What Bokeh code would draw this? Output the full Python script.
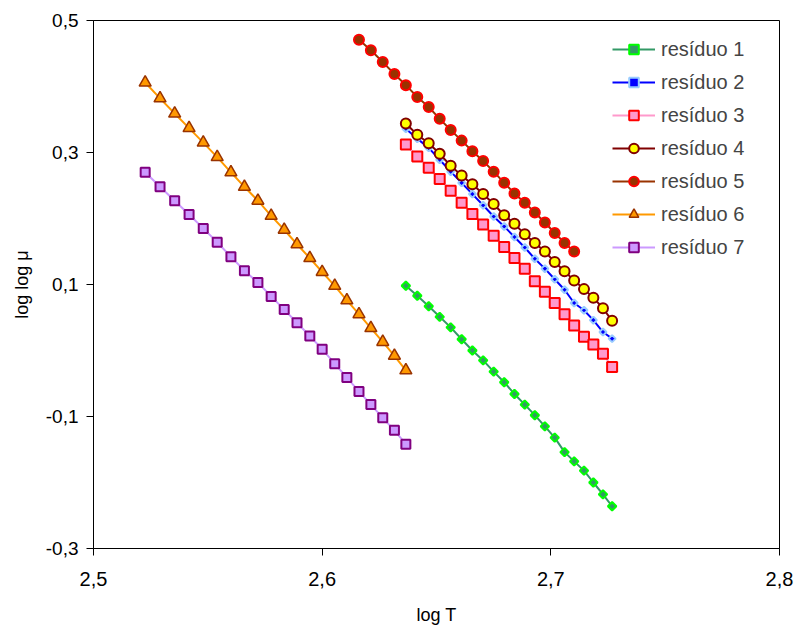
from bokeh.plotting import figure
from bokeh.models import FixedTicker, Legend, LegendItem, Range1d
from bokeh.embed import file_html
from bokeh.resources import INLINE

# log T values (x) for the three temperature groups
x_low = [2.5226, 2.5291, 2.5355, 2.5418, 2.5480, 2.5541, 2.5601, 2.5660, 2.5719, 2.5777, 2.5834,
         2.5890, 2.5946, 2.6000, 2.6055, 2.6108, 2.6161, 2.6213, 2.6265, 2.6316, 2.6366]
x_mid = [2.6161, 2.6213, 2.6265, 2.6316, 2.6366, 2.6416, 2.6466, 2.6514, 2.6562, 2.6610, 2.6657,
         2.6704, 2.6750, 2.6796, 2.6841, 2.6886, 2.6930, 2.6974, 2.7017, 2.7060, 2.7102]
x_high = [2.6366, 2.6416, 2.6466, 2.6514, 2.6562, 2.6610, 2.6657, 2.6704, 2.6750, 2.6796, 2.6841,
          2.6886, 2.6930, 2.6974, 2.7017, 2.7060, 2.7102, 2.7145, 2.7186, 2.7228, 2.7268]

# log log mu values (y)
res1 = [0.098, 0.083, 0.067, 0.051, 0.035, 0.017, 0.000, -0.015, -0.032, -0.048, -0.066,
        -0.082, -0.098, -0.115, -0.132, -0.154, -0.168, -0.182, -0.200, -0.218, -0.236]
res2 = [0.336, 0.321, 0.307, 0.289, 0.271, 0.254, 0.237, 0.220, 0.203, 0.188, 0.172,
        0.156, 0.139, 0.124, 0.108, 0.092, 0.072, 0.061, 0.046, 0.028, 0.018]
res3 = [0.312, 0.294, 0.277, 0.260, 0.242, 0.224, 0.207, 0.191, 0.174, 0.157, 0.140,
        0.124, 0.105, 0.089, 0.072, 0.055, 0.038, 0.021, 0.009, -0.005, -0.025]
res4 = [0.344, 0.327, 0.314, 0.298, 0.280, 0.265, 0.252, 0.237, 0.222, 0.205, 0.192,
        0.176, 0.163, 0.150, 0.134, 0.120, 0.106, 0.093, 0.080, 0.064, 0.045]
res5 = [0.471, 0.455, 0.437, 0.419, 0.402, 0.384, 0.369, 0.351, 0.334, 0.318, 0.302,
        0.287, 0.271, 0.254, 0.238, 0.224, 0.209, 0.194, 0.178, 0.163, 0.150]
res6 = [0.406, 0.382, 0.359, 0.337, 0.315, 0.293, 0.270, 0.248, 0.227, 0.204, 0.183,
        0.161, 0.140, 0.119, 0.098, 0.076, 0.055, 0.034, 0.013, -0.008, -0.030]
res7 = [0.270, 0.248, 0.227, 0.206, 0.185, 0.164, 0.142, 0.121, 0.103, 0.082, 0.062,
        0.042, 0.022, 0.002, -0.020, -0.041, -0.062, -0.082, -0.102, -0.121, -0.142]

labels = ["resíduo 1", "resíduo 2", "resíduo 3", "resíduo 4", "resíduo 5", "resíduo 6", "resíduo 7"]

x_ticks = [2.5, 2.6, 2.7, 2.8]
x_tick_labels = ["2,5", "2,6", "2,7", "2,8"]
y_ticks = [-0.3, -0.1, 0.1, 0.3, 0.5]
y_tick_labels = ["-0,3", "-0,1", "0,1", "0,3", "0,5"]

FONT = "Liberation Sans"

p = figure(frame_width=686, frame_height=528, output_backend="svg", toolbar_location=None,
           x_range=Range1d(2.5, 2.8), y_range=Range1d(-0.3, 0.5),
           min_border_left=93, min_border_top=20, min_border_right=15, min_border_bottom=77)
p.background_fill_color = "white"
p.border_fill_color = "white"
p.outline_line_color = "black"
p.outline_line_width = 1
p.xgrid.visible = False
p.ygrid.visible = False

for ax in (p.xaxis[0], p.yaxis[0]):
    ax.axis_line_color = "black"
    ax.major_tick_line_color = "black"
    ax.major_tick_out = 7
    ax.major_tick_in = 0
    ax.minor_tick_line_color = None
    ax.major_label_text_color = "black"
    ax.major_label_text_font = FONT
    ax.axis_label_text_font = FONT
    ax.axis_label_text_font_style = "normal"
    ax.axis_label_text_color = "black"
    ax.axis_label_text_font_size = "18px"

p.xaxis.ticker = FixedTicker(ticks=x_ticks)
p.yaxis.ticker = FixedTicker(ticks=y_ticks)
p.xaxis.major_label_overrides = dict(zip(x_ticks, x_tick_labels))
p.yaxis.major_label_overrides = dict(zip(y_ticks, y_tick_labels))
p.xaxis.major_label_text_font_size = "20px"
p.yaxis.major_label_text_font_size = "19px"
p.xaxis.major_label_standoff = 16
p.yaxis.major_label_standoff = 8
p.xaxis.axis_label = "log T"
p.yaxis.axis_label = "log log μ"
p.xaxis.axis_label_standoff = 16
p.yaxis.axis_label_standoff = 11

series = [
    (x_high, res1, "#339966", dict(marker="square", angle=0.7854, size=6, fill_color="#339966", line_color="#00FF00", line_width=2)),
    (x_high, res2, "#0000FF", dict(marker="square", angle=0.7854, size=5, fill_color="#0000FF", line_color="#99CCFF", line_width=2)),
    (x_high, res3, "#FF99CC", dict(marker="square", size=10, fill_color="#FF99CC", line_color="#FF0000", line_width=2)),
    (x_high, res4, "#800000", dict(marker="circle", size=10, fill_color="#FFFF00", line_color="#800000", line_width=2)),
    (x_mid, res5, "#993300", dict(marker="circle", size=10, fill_color="#993300", line_color="#FF0000", line_width=2)),
    (x_low, res6, "#FF9900", dict(marker="triangle", size=12, fill_color="#FF9900", line_color="#993300", line_width=1.5)),
    (x_low, res7, "#CC99FF", dict(marker="square", size=9, fill_color="#CC99FF", line_color="#800080", line_width=2)),
]

items = []
for (xs, ys, lc, mk), lab in zip(series, labels):
    r_line = p.line(xs, ys, line_color=lc, line_width=2)
    r_pts = p.scatter(xs, ys, **mk)
    items.append(LegendItem(label=lab, renderers=[r_line, r_pts]))

legend = Legend(items=items, location=(519, 289), border_line_color=None,
                background_fill_alpha=0, label_text_font=FONT, label_text_font_size="20px",
                glyph_width=43, glyph_height=24, label_height=24, spacing=9, padding=0,
                margin=0, label_standoff=6)
p.add_layout(legend)

open("out.html", "w").write(file_html(p, INLINE))
